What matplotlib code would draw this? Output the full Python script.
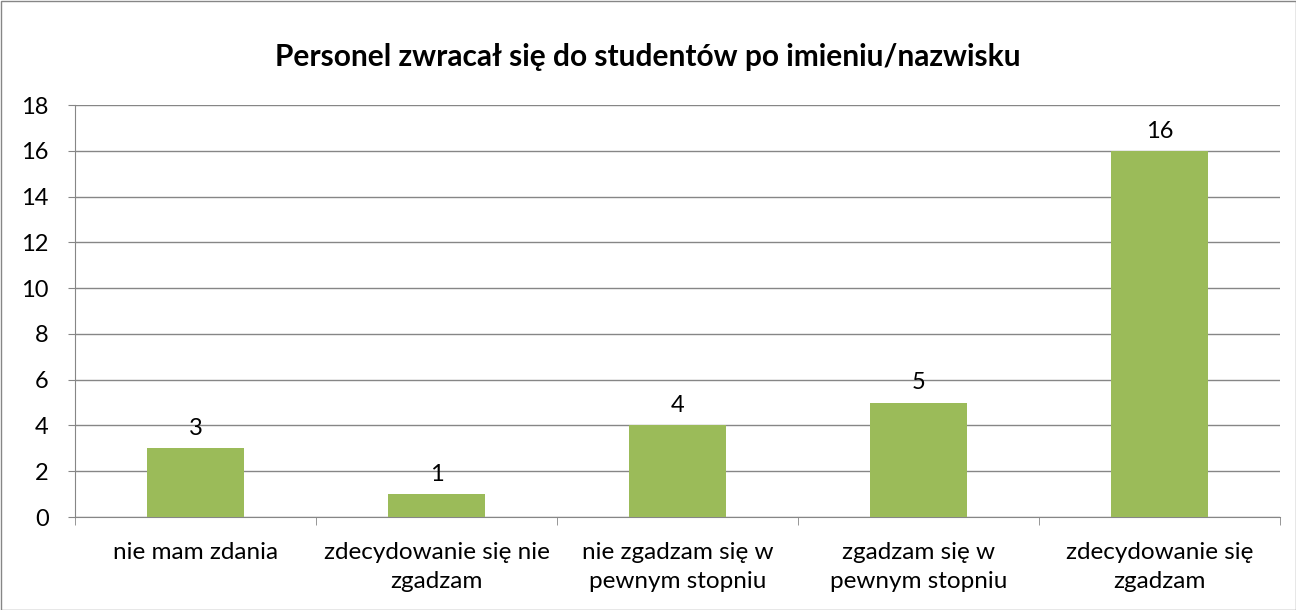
import matplotlib
matplotlib.use("Agg")
import matplotlib.pyplot as plt
import numpy as np
from matplotlib.patches import Rectangle

categories = ["nie mam zdania", "zdecydowanie się nie\nzgadzam", "nie zgadzam się w\npewnym stopniu",
              "zgadzam się w\npewnym stopniu", "zdecydowanie się\nzgadzam"]
values = [3, 1, 4, 5, 16]
title = "Personel zwracał się do studentów po imieniu/nazwisku"

plt.rcParams['font.family'] = ['Lato', 'DejaVu Sans']

fig = plt.figure(figsize=(12.96, 6.10), dpi=100)
ax = fig.add_axes([75 / 1296, 1 - 517 / 610, 1205 / 1296, 412 / 610])

x = np.arange(len(categories))
ax.bar(x, values, width=0.4, color='#9BBB59', zorder=3)
for xi, v in zip(x, values):
    ax.text(xi, v + 0.4, str(v), ha='center', va='bottom', fontsize=17)

ax.set_xlim(-0.5, len(categories) - 0.5)
ax.set_ylim(0, 18)
ax.set_yticks(range(0, 19, 2))
ax.tick_params(axis='y', labelsize=17, length=5, color='#868686', pad=14)
ax.yaxis.grid(True, color='#868686', lw=1, zorder=0)

ax.set_xticks(x)
ax.set_xticklabels(categories, fontsize=17.5, linespacing=1.5)
ax.tick_params(axis='x', length=0, pad=18)
ax.set_xticks(np.arange(-0.5, len(categories)), minor=True)
ax.tick_params(axis='x', which='minor', length=6, color='#868686')

for s in ['top', 'right']:
    ax.spines[s].set_visible(False)
for s in ['left', 'bottom']:
    ax.spines[s].set_color('#868686')

fig.text(0.5, 1 - 57 / 610, title, ha='center', va='center', fontsize=21.5, fontweight='bold')
fig.patches.append(Rectangle((0.5 / 1296, 0.5 / 610), 1 - 1 / 1296, 1 - 1 / 610, transform=fig.transFigure,
                             fill=False, edgecolor='#868686', lw=1))

fig.savefig("out.png", dpi=100)
